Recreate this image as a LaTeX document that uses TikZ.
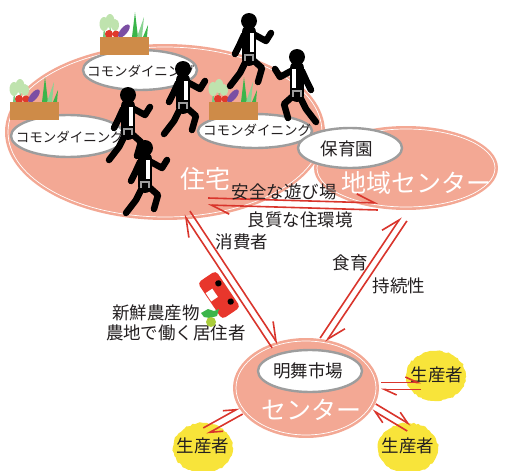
\documentclass[tikz,border=0pt]{standalone}
\usepackage{fontspec}
\setmainfont{Noto Sans CJK JP}
\usetikzlibrary{arrows.meta,calc,decorations.pathmorphing}

\definecolor{salmon}{HTML}{F3A894}
\definecolor{flowred}{HTML}{D9352C}
\definecolor{carred}{HTML}{E8362C}
\definecolor{sunny}{HTML}{F8E43A}
\definecolor{boxbrown}{HTML}{CE8B48}
\definecolor{rimgray}{HTML}{9D9D9D}
\definecolor{ink}{HTML}{231F20}
\definecolor{leafpale}{HTML}{BFE3AE}
\definecolor{leafgreen}{HTML}{3BB54A}
\definecolor{tomato}{HTML}{E0392B}
\definecolor{eggplant}{HTML}{7B4EA3}
\definecolor{sprout}{HTML}{A9CC3A}

\tikzset{
  area/.style={fill=salmon},
  rim/.style={draw=white, line width=0.7pt},
  bubble/.style={fill=white, draw=rimgray, line width=2.4pt},
  lbl/.style={font=\fontsize{17.5}{18}\selectfont, text=ink, inner sep=0pt},
  small/.style={font=\fontsize{13.5}{14}\selectfont, text=ink, inner sep=0pt},
  big/.style={font=\fontsize{25}{26}\selectfont, text=white, inner sep=0pt},
  harp/.style={draw=flowred, line width=1.6pt,
    -{Straight Barb[left, length=18pt, width=17pt]}},
  harpshort/.style={draw=flowred, line width=1.6pt,
    -{Straight Barb[left, length=12pt, width=11pt]}},
  limb/.style={draw=black, line width=6.5pt, line cap=round, line join=round},
  runner/.pic={
    \draw[limb] (-3,-2) -- (-9,10) -- (-19,23);
    \draw[limb] (4,-3) -- (13,5) -- (9,19);
    \draw[limb] (-5,-28) -- (-10,-17) -- (-14,-9);
    \draw[limb] (6,-28) -- (17,-22) -- (22,-30);
    \draw[black, line width=14pt, line cap=round] (0,-31) -- (0,-4);
    \fill[white] (1,-30) rectangle (5,-11);
    \draw[rimgray, line width=1.2pt] (-4,-2) -- (-4,-8) -- (4,-8) -- (4,-2);
    \fill[black] (0,-42) circle (8pt);
  },
  vegbox/.pic={
    \fill[leafgreen!70] (3,0) -- (4,-10) -- (6,0) -- cycle;
    \fill[leafgreen!70] (9,0) -- (10,-12) -- (12,0) -- cycle;
    \fill[leafpale] (4,-13) ellipse [x radius=4.5pt, y radius=7pt];
    \fill[leafpale] (10,-16) ellipse [x radius=4.5pt, y radius=7pt];
    \fill[leafpale] (15,-12) ellipse [x radius=4pt, y radius=6pt];
    \fill[tomato] (9,-3) circle (4pt);
    \fill[tomato] (16,-3) circle (3.5pt);
    \fill[eggplant, rotate around={-40:(24,-6)}] (24,-6) ellipse [x radius=3.5pt, y radius=8pt];
    \fill[leafgreen] (32,0) -- (35,-25) -- (38,0) -- cycle;
    \fill[leafgreen!60] (37,0) -- (44,-20) -- (42,0) -- cycle;
    \fill[leafgreen] (43,0) -- (48,-12) -- (47,0) -- cycle;
    \fill[boxbrown] (0,0) rectangle (49,18);
  }
}

% a pair of opposite one-sided arrows between two points, each kept to its left
\newcommand\twoway[3]{%
  \draw[#1] ($(#2)!3.5pt!90:(#3)$) -- ($(#3)!3.5pt!-90:(#2)$);
  \draw[#1] ($(#3)!3.5pt!90:(#2)$) -- ($(#2)!3.5pt!-90:(#3)$);
}

\begin{document}
\begin{tikzpicture}[x=1pt, y=-1pt]
\useasboundingbox (0,0) rectangle (507,471);

% housing area and community centre
\fill[area] (165,132) ellipse [x radius=160pt, y radius=88pt];
\draw[rim] (165,132) ellipse [x radius=157pt, y radius=85pt];
\fill[area] (406,168) ellipse [x radius=92pt, y radius=42pt];
\draw[rim] (406,168) ellipse [x radius=89pt, y radius=39pt];

% market centre
\fill[area] (306,388) ellipse [x radius=73pt, y radius=50pt];
\draw[rim] (306,388) ellipse [x radius=70pt, y radius=47pt];

% producers
\foreach \c in {(436,376),(408,448),(203,448)}
  \fill[sunny, decorate, decoration={random steps, segment length=2.5pt, amplitude=0.8pt}]
    \c ellipse [x radius=30pt, y radius=25pt];

% white bubbles
\path[bubble] (140,70) ellipse [x radius=57pt, y radius=20pt];
\path[bubble] (68,136) ellipse [x radius=57pt, y radius=21pt];
\path[bubble] (255,131) ellipse [x radius=57pt, y radius=17pt];
\path[bubble] (350,148) ellipse [x radius=52pt, y radius=20pt];
\path[bubble] (310,371) ellipse [x radius=52pt, y radius=21pt];

\node[small] (cd1) at (141,71) {コモンダイニング};
\node[small] (cd2) at (70,137) {コモンダイニング};
\node[small] (cd3) at (257,130) {コモンダイニング};
\node[lbl] (nursery) at (347,149) {保育園};
\node[lbl] (market) at (308,371) {明舞市場};

% vegetable crates
\pic at (100,37) {vegbox};
\pic at (10,102) {vegbox};
\pic at (209,102) {vegbox};

% area titles
\node[big] (house) at (205,179) {住宅};
\node[big] (community) at (416,183) {地域センター};
\node[big] (centre) at (311,410) {センター};

% producer names
\node[lbl] (p1) at (437,375) {生産者};
\node[lbl] (p2) at (408,446) {生産者};
\node[lbl] (p3) at (203,446) {生産者};

% flow end points
\coordinate (hA) at (208,201.5);
\coordinate (cA) at (378,206.5);
\coordinate (hB) at (187,213);
\coordinate (mB) at (275,346);
\coordinate (cC) at (404,219);
\coordinate (mC) at (323,340);
\coordinate (mD) at (381,386);
\coordinate (pD) at (421,386);
\coordinate (mE) at (374,407);
\coordinate (pE) at (409,428);
\coordinate (mF) at (241,411);
\coordinate (pF) at (205,431);

\twoway{harp}{hA}{cA}
\twoway{harp}{hB}{mB}
\twoway{harp}{cC}{mC}
\twoway{harpshort}{mD}{pD}
\twoway{harpshort}{mE}{pE}
\twoway{harpshort}{mF}{pF}

% flow labels
\node[lbl] (l1) at (284,192) {安全な遊び場};
\node[lbl] (l2) at (300,220) {良質な住環境};
\node[lbl] (l3) at (242,242) {消費者};
\node[lbl] (l4) at (350,263) {食育};
\node[lbl] (l5) at (399,286) {持続性};
\node[lbl] (l6) at (156,313) {新鮮農産物};
\node[lbl] (l7) at (176,333) {農地で働く居住者};

% little delivery car
\begin{scope}[shift={(219,295)}, rotate=-56]
  \fill[carred, rounded corners=4pt] (-22,-11) rectangle (22,11);
  \fill[white] (-9,2) rectangle (1,10);
  \fill[black] (-10,-6) circle (3.2pt);
  \fill[black] (12,-6) circle (3.2pt);
\end{scope}
\fill[leafgreen] (201,313) -- (208,309) -- (214,311) -- (219,309) -- (217,316) -- (210,318) -- (204,317) -- cycle;
\fill[sprout] (211,322) circle (5pt);

% residents on the move
\pic at (249,63) {runner};
\pic[xscale=-1] at (297,99) {runner};
\pic at (183,111) {runner};
\pic at (128,137) {runner};
\pic at (145,190) {runner};
\end{tikzpicture}
\end{document}
